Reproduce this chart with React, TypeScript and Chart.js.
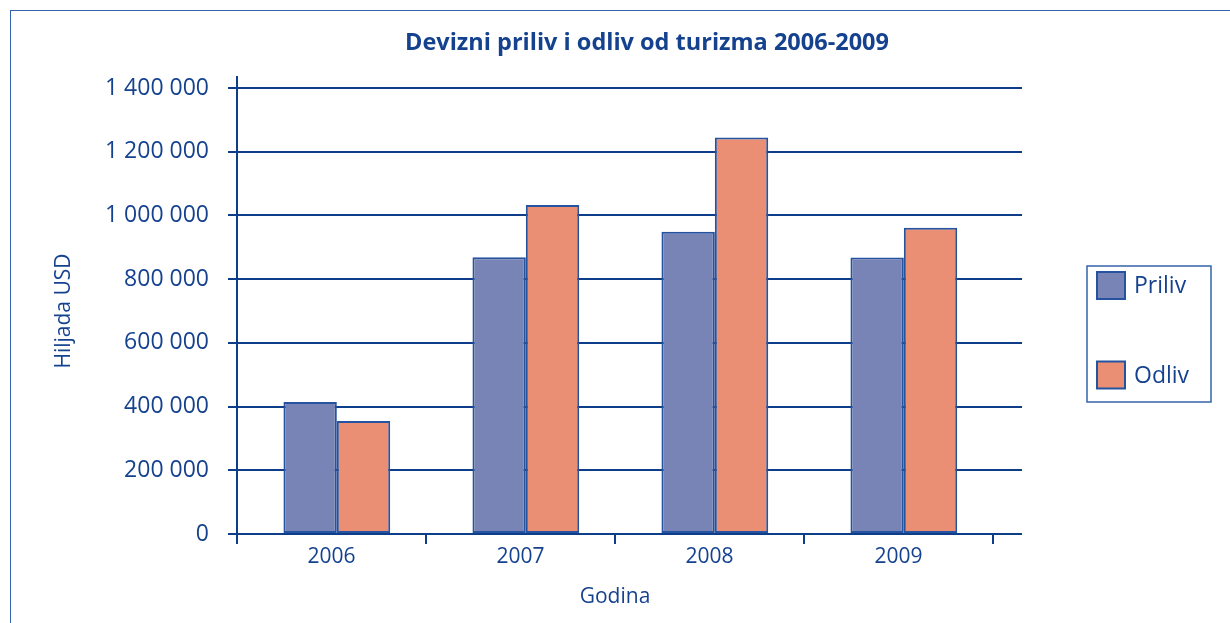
import React, { useEffect, useRef } from "react";
import { Chart, registerables } from "chart.js";

Chart.register(...registerables);

const TITLE = "Devizni priliv i odliv od turizma 2006-2009";
const X_TITLE = "Godina";
const Y_TITLE = "Hiljada USD";
const categories = ["2006", "2007", "2008", "2009"];
const seriesNames = ["Priliv", "Odliv"];
const priliv = [414000, 869000, 949000, 868000];
const odliv = [355000, 1033000, 1245000, 961000];
const yMin = 0;
const yMax = 1400000;
const yStep = 200000;

const FONT = "'Open Sans', 'Noto Sans', sans-serif";
const TEXT = "#15428f";
const LINE = "#0e3d8a";
const BAR_BORDER = "#2553a0";
const COLORS = ["#7884b5", "#ea8f74"];
const FRAME = "#3563ab";
const GROUP_SHIFT = 0.1; // bar groups sit slightly right of category centre (fraction of bar width)

const fmt = (v: number) => String(v).replace(/\B(?=(\d{3})+(?!\d))/g, " ");

const extrasPlugin = {
  id: "extras",
  afterDatasetsUpdate(chart: any) {
    chart.data.datasets.forEach((_: any, i: number) => {
      const meta = chart.getDatasetMeta(i);
      meta.data.forEach((el: any) => {
        el.x += el.width * GROUP_SHIFT;
      });
    });
  },
  beforeDatasetsDraw(chart: any) {
    const { ctx, chartArea } = chart;
    const y = chart.scales.y;
    ctx.save();
    ctx.strokeStyle = LINE;
    ctx.lineWidth = 2;
    y.ticks.forEach((t: any) => {
      const py = Math.round(y.getPixelForValue(t.value));
      ctx.beginPath();
      ctx.moveTo(chartArea.right, py);
      ctx.lineTo(chartArea.right + 29, py);
      ctx.stroke();
    });
    ctx.beginPath();
    ctx.moveTo(chartArea.left, chartArea.top - 12);
    ctx.lineTo(chartArea.left, chartArea.top);
    ctx.stroke();
    ctx.restore();
  },
  afterDraw(chart: any) {
    const { ctx } = chart;
    ctx.save();
    ctx.fillStyle = TEXT;
    ctx.font = `bold 23.5px ${FONT}`;
    ctx.textAlign = "center";
    ctx.textBaseline = "middle";
    ctx.fillText(TITLE, 647, 43);

    const lx = 1087, ly = 266, lw = 124, lh = 136;
    ctx.strokeStyle = FRAME;
    ctx.lineWidth = 1.5;
    ctx.strokeRect(lx, ly, lw, lh);
    const rows = [285.5, 375];
    chart.data.datasets.forEach((ds: any, i: number) => {
      const cy = rows[i];
      ctx.fillStyle = ds.backgroundColor;
      ctx.fillRect(lx + 10, cy - 13.5, 28, 27);
      ctx.strokeStyle = BAR_BORDER;
      ctx.lineWidth = 2;
      ctx.strokeRect(lx + 10, cy - 13.5, 28, 27);
      ctx.fillStyle = TEXT;
      ctx.font = `23px ${FONT}`;
      ctx.textAlign = "left";
      ctx.textBaseline = "middle";
      ctx.fillText(ds.label, lx + 47, cy + 1);
    });
    ctx.restore();
  },
};

export default function App() {
  const ref = useRef<HTMLCanvasElement | null>(null);

  useEffect(() => {
    if (!ref.current) return;
    const makeDs = (i: number, data: number[]) => ({
      label: seriesNames[i],
      data,
      backgroundColor: COLORS[i],
      borderColor: BAR_BORDER,
      borderWidth: 2,
      borderSkipped: false,
      categoryPercentage: 0.565,
      barPercentage: 1.0,
    });
    const chart = new Chart(ref.current, {
      type: "bar",
      data: {
        labels: categories,
        datasets: [makeDs(0, priliv), makeDs(1, odliv)],
      },
      options: {
        animation: false,
        responsive: false,
        maintainAspectRatio: false,
        layout: { padding: { left: 0, top: 88, right: 237, bottom: 0 } },
        plugins: {
          legend: { display: false },
          title: { display: false },
          tooltip: { enabled: false },
        },
        scales: {
          x: {
            afterFit: (s: any) => {
              s.height = 89;
            },
            grid: {
              drawOnChartArea: false,
              drawTicks: true,
              tickLength: 10,
              color: LINE,
              lineWidth: 2,
              offset: true,
            },
            border: { display: true, color: LINE, width: 2 },
            ticks: {
              color: TEXT,
              font: { family: FONT, size: 21 },
              padding: 0,
            },
            title: {
              display: true,
              text: X_TITLE,
              color: TEXT,
              font: { family: FONT, size: 21 },
              padding: { top: 0, bottom: 13 },
            },
          },
          y: {
            min: yMin,
            max: yMax,
            afterFit: (s: any) => {
              s.width = 237;
            },
            grid: {
              drawOnChartArea: true,
              drawTicks: true,
              tickLength: 9,
              color: LINE,
              lineWidth: 2,
            },
            border: { display: true, color: LINE, width: 2 },
            ticks: {
              stepSize: yStep,
              color: TEXT,
              font: { family: FONT, size: 23 },
              padding: 19,
              callback: (v: any) => fmt(Number(v)),
            },
            title: {
              display: true,
              text: Y_TITLE,
              color: TEXT,
              font: { family: FONT, size: 21 },
              padding: { top: 51, bottom: 0 },
            },
          },
        },
      },
      plugins: [extrasPlugin],
    });
    return () => chart.destroy();
  }, []);

  return (
    <div style={{ position: "fixed", left: 0, top: 0, width: 1230, height: 623, overflow: "hidden", background: "#fff" }}>
      <div
        style={{
          position: "absolute",
          left: 10,
          top: 10,
          width: 1260,
          height: 660,
          border: `1.5px solid ${FRAME}`,
        }}
      />
      <canvas
        ref={ref}
        width={1230}
        height={623}
        style={{ position: "absolute", left: 0, top: 0, width: 1230, height: 623 }}
      />
    </div>
  );
}
